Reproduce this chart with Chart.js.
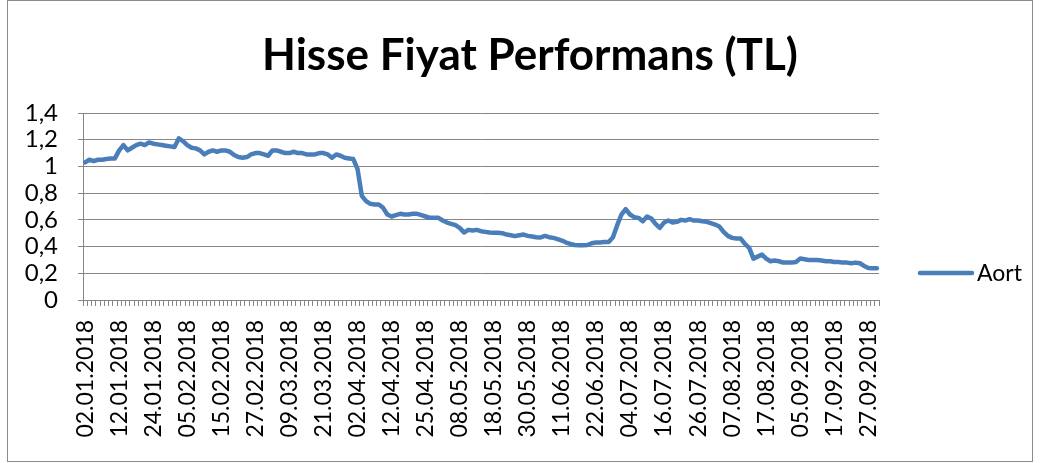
<!DOCTYPE html>
<html>
<head>
<meta charset="utf-8">
<script src="https://cdn.jsdelivr.net/npm/chart.js@4/dist/chart.umd.min.js"></script>
<style>
  html, body { margin: 0; padding: 0; background: #fff; }
  canvas { display: block; }
</style>
</head>
<body>
<canvas id="grafik" width="1040" height="463"></canvas>
<script>
const seriesName = 'Aort'
const chartTitle = 'Hisse Fiyat Performans (TL)'

// one label every 8 trading days
const xTickLabels = [
  '02.01.2018', '12.01.2018', '24.01.2018', '05.02.2018', '15.02.2018', '27.02.2018',
  '09.03.2018', '21.03.2018', '02.04.2018', '12.04.2018', '25.04.2018', '08.05.2018',
  '18.05.2018', '30.05.2018', '11.06.2018', '22.06.2018', '04.07.2018', '16.07.2018',
  '26.07.2018', '07.08.2018', '17.08.2018', '05.09.2018', '17.09.2018', '27.09.2018'
]
const yTickLabels = ['0', '0,2', '0,4', '0,6', '0,8', '1', '1,2', '1,4']

const prices = [
  1.03, 1.05, 1.04, 1.05, 1.05, 1.055, 1.06, 1.06, 1.12, 1.16,
  1.12, 1.14, 1.16, 1.17, 1.16, 1.18, 1.17, 1.165, 1.16, 1.155,
  1.15, 1.145, 1.21, 1.19, 1.16, 1.14, 1.135, 1.12, 1.09, 1.11,
  1.12, 1.11, 1.12, 1.12, 1.11, 1.085, 1.07, 1.065, 1.07, 1.09,
  1.10, 1.10, 1.09, 1.08, 1.12, 1.12, 1.11, 1.10, 1.10, 1.11,
  1.10, 1.10, 1.09, 1.09, 1.09, 1.10, 1.10, 1.09, 1.065, 1.09,
  1.08, 1.065, 1.06, 1.055, 0.98, 0.78, 0.74, 0.72, 0.715, 0.715,
  0.69, 0.64, 0.625, 0.635, 0.645, 0.64, 0.64, 0.645, 0.645, 0.635,
  0.625, 0.615, 0.615, 0.615, 0.595, 0.58, 0.57, 0.56, 0.54, 0.505,
  0.525, 0.52, 0.525, 0.515, 0.51, 0.505, 0.503, 0.503, 0.50, 0.49,
  0.485, 0.478, 0.485, 0.49, 0.48, 0.475, 0.47, 0.468, 0.48, 0.47,
  0.465, 0.455, 0.445, 0.43, 0.42, 0.412, 0.41, 0.41, 0.412, 0.425,
  0.43, 0.43, 0.435, 0.435, 0.47, 0.56, 0.64, 0.68, 0.64, 0.62,
  0.615, 0.59, 0.625, 0.61, 0.57, 0.54, 0.58, 0.595, 0.58, 0.585,
  0.60, 0.595, 0.605, 0.595, 0.595, 0.59, 0.585, 0.575, 0.565, 0.55,
  0.51, 0.48, 0.465, 0.46, 0.46, 0.42, 0.39, 0.31, 0.325, 0.34,
  0.31, 0.29, 0.295, 0.29, 0.28, 0.28, 0.28, 0.285, 0.31, 0.305,
  0.30, 0.30, 0.30, 0.295, 0.29, 0.29, 0.285, 0.285, 0.28, 0.28,
  0.275, 0.28, 0.275, 0.255, 0.24, 0.238, 0.238
]

const mavi = '#4a7ebb'
const gri = '#868686'

const labels = prices.map((_, i) => (i % 8 === 0 ? xTickLabels[i / 8] : ''))

// outer frame, title (centred on the whole frame) and legend on the right
const cerceve = {
  id: 'cerceve',
  afterDraw(chart) {
    const ctx = chart.ctx
    ctx.save()
    ctx.strokeStyle = '#8c8c8c'
    ctx.lineWidth = 1
    ctx.strokeRect(7.5, 0.5, 1025, 461)

    ctx.fillStyle = '#000'
    ctx.font = 'bold 44px Lato'
    ctx.textAlign = 'center'
    ctx.textBaseline = 'alphabetic'
    ctx.fillText(chartTitle, 530, 70)

    ctx.strokeStyle = mavi
    ctx.lineWidth = 4.5
    ctx.lineCap = 'round'
    ctx.beginPath()
    ctx.moveTo(920, 273)
    ctx.lineTo(972, 273)
    ctx.stroke()

    ctx.font = '23px Lato'
    ctx.textAlign = 'left'
    ctx.textBaseline = 'middle'
    ctx.fillText(seriesName, 977, 274)
    ctx.restore()
  }
}

function ciz() {
  Chart.defaults.font.family = 'Lato'
  Chart.defaults.color = '#000'

  new Chart(document.getElementById('grafik'), {
    type: 'line',
    data: {
      labels: labels,
      datasets: [
        {
          label: seriesName,
          data: prices,
          borderColor: mavi,
          backgroundColor: mavi,
          borderWidth: 4.5,
          tension: 0,
          pointRadius: 0,
          borderJoinStyle: 'round',
          borderCapStyle: 'round'
        }
      ]
    },
    options: {
      responsive: false,
      animation: false,
      layout: {
        padding: { left: 8, right: 161, top: 113, bottom: 8 }
      },
      plugins: {
        legend: { display: false },
        tooltip: { enabled: false },
        title: { display: false }
      },
      scales: {
        x: {
          offset: true,
          grid: {
            offset: true,
            drawOnChartArea: false,
            color: gri,
            tickLength: 6
          },
          border: { color: gri, width: 1 },
          ticks: {
            autoSkip: false,
            minRotation: 90,
            maxRotation: 90,
            padding: 14,
            font: { size: 23 }
          },
          afterFit(s) { s.height = 155 }
        },
        y: {
          min: 0,
          max: 1.4,
          ticks: {
            stepSize: 0.2,
            autoSkip: false,
            padding: 20,
            font: { size: 24 },
            callback: (v, i) => yTickLabels[i]
          },
          grid: { color: gri, tickLength: 5 },
          border: { color: gri, width: 1 },
          afterFit(s) { s.width = 75 }
        }
      }
    },
    plugins: [cerceve]
  })
}

document.fonts.load('22px Lato').then(ciz, ciz)
</script>
</body>
</html>
